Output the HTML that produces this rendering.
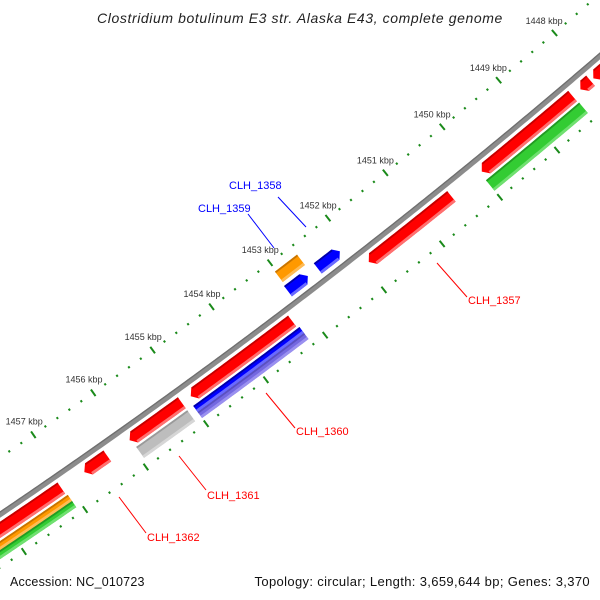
<!DOCTYPE html>
<html><head><meta charset="utf-8"><style>
html,body{margin:0;padding:0;background:#fff;width:600px;height:600px;overflow:hidden}
svg{display:block;font-family:"Liberation Sans",sans-serif;overflow:hidden}
</style></head><body>
<svg id="map" width="600" height="600" viewBox="0 0 600 600">
<text x="300" y="23" text-anchor="middle" font-size="14" letter-spacing="0.6" font-style="italic" fill="#222">Clostridium botulinum E3 str. Alaska E43, complete genome</text>
<g id="ticks"></g>
<g id="feats"></g>
<g id="labels">
<line x1="437" y1="263" x2="467" y2="297" stroke="#f00" stroke-width="1"/>
<text x="468" y="304" font-size="11" fill="#f00">CLH_1357</text>
<line x1="266" y1="393" x2="295" y2="428" stroke="#f00" stroke-width="1"/>
<text x="296" y="435" font-size="11" fill="#f00">CLH_1360</text>
<line x1="179" y1="456" x2="206" y2="490" stroke="#f00" stroke-width="1"/>
<text x="207" y="499" font-size="11" fill="#f00">CLH_1361</text>
<line x1="119" y1="497" x2="146" y2="533" stroke="#f00" stroke-width="1"/>
<text x="147" y="541" font-size="11" fill="#f00">CLH_1362</text>
<line x1="278" y1="197" x2="306" y2="227" stroke="#00f" stroke-width="1"/>
<text x="229" y="189" font-size="11" fill="#00f">CLH_1358</text>
<line x1="248" y1="214" x2="274" y2="248" stroke="#00f" stroke-width="1"/>
<text x="198" y="212" font-size="11" fill="#00f">CLH_1359</text>
</g>
<text x="10" y="586" font-size="12.5" letter-spacing="0.2" fill="#111">Accession: NC_010723</text>
<text x="590" y="586" font-size="13" letter-spacing="0.35" fill="#111" text-anchor="end">Topology: circular; Length: 3,659,644 bp; Genes: 3,370</text>
</svg>
<script>
const featNames=['clh1362-a','clh1362-b','clh1361-a','clh1361','clh1360-a','clh1360','clh1360-shade','clh1359','clh1359-orf','clh1358','clh1357','clh1356','clh1356-cds','clh1355-a','clh1355-b','clh1362-orf','clh1362-cds'];
const featStart=[1457.1,1456.34,1455.10,1455.10,1453.24,1453.21,1453.21,1452.70,1452.64,1452.15,1450.50,1448.37,1448.36,1448.05,1446.5,1457.08,1457.08];
const featEnd=[1459.5,1456.72,1455.97,1455.95,1454.95,1455.0,1455.0,1453.04,1453.02,1452.53,1451.93,1449.97,1450.0,1448.23,1448.0,1459.5,1459.5];
const featRing=[1,1,1,2,1,3,4,-1,-2,-1,1,1,2,1,1,3,4];
const featDir=[1,1,1,0,1,0,0,-1,0,-1,1,1,0,1,1,0,0];
const featColor=['red','red','red','gray','red','blue','purple','blue','orange','blue','red','red','green','red','red','orange','green'];
const kbpLabels=[1448,1449,1450,1451,1452,1453,1454,1455,1456,1457];

const C={x:-3644,y:-4874},R0=6505,K0=1457,T0=55.29,DT=0.649;
const NS='http://www.w3.org/2000/svg';
function pt(k,v){const t=(T0-(K0-k)*DT)*Math.PI/180;const r=R0+v;return [C.x+r*Math.cos(t),C.y+r*Math.sin(t)];}
const ringBand={'1':[6,19.5],'2':[22,35.5],'3':[22,29.5],'4':[29.5,37],'-1':[-20,-7],'-2':[-37,-24]};
const pal={red:['#ff0000','#c40000','#ff7070'],blue:['#0000ff','#0000a8','#6a6aff'],purple:['#7468e0','#5a50c0','#9a90f0'],orange:['#ff9900','#c87400','#ffbb55'],green:['#33cc33','#239a23','#70e070'],gray:['#bdbdbd','#9a9a9a','#d6d6d6']};
function arcPts(k1,k2,v){const n=Math.max(2,Math.ceil(Math.abs(k2-k1)/0.05));const a=[];for(let i=0;i<=n;i++){a.push(pt(k1+(k2-k1)*i/n,v));}return a;}
function poly(points,fill,name,parent){const p=document.createElementNS(NS,'polygon');p.setAttribute('points',points.map(q=>q[0].toFixed(2)+','+q[1].toFixed(2)).join(' '));p.setAttribute('fill',fill);


parent.appendChild(p);return p;}
function band(k1,k2,a,b){return arcPts(k1,k2,a).concat(arcPts(k2,k1,b));}

const tg=document.getElementById('ticks');
poly(band(1445,1460,-2.7,2.7),'#8c8c8c','backbone',tg);
poly(band(1445,1460,-2.7,-1.4),'#6f6f6f','backbone-edge',tg);
function line(p,q,w,col,name,parent){const l=document.createElementNS(NS,'line');l.setAttribute('x1',p[0].toFixed(2));l.setAttribute('y1',p[1].toFixed(2));l.setAttribute('x2',q[0].toFixed(2));l.setAttribute('y2',q[1].toFixed(2));l.setAttribute('stroke',col);l.setAttribute('stroke-width',w);


parent.appendChild(l);}
for(let i=14450;i<=14600;i+=2){const k=i/10;const major=(i%10===0);
 [-47,44].forEach(v=>{const h=major?4:1.1;line(pt(k,v-h),pt(k,v+h),2,'#1a8a1a',major?'major-tick':'minor-tick',tg);});}
kbpLabels.forEach(k=>{const p=pt(k,-63);const t=document.createElementNS(NS,'text');t.setAttribute('x',p[0].toFixed(1));t.setAttribute('y',(p[1]+3).toFixed(1));t.setAttribute('text-anchor','middle');t.setAttribute('font-size','9');t.setAttribute('fill','#333');t.textContent=k+' kbp';


tg.appendChild(t);});

const fg=document.getElementById('feats');
const L=0.075;
featStart.forEach((s,i)=>{const e=featEnd[i];const [a,b]=ringBand[String(featRing[i])];const c=pal[featColor[i]];const d=featDir[i];const m=(a+b)/2;
 let pts,bs=s,be=e;
 if(d>0){be=e-L;pts=arcPts(s,be,a).concat([pt(e,m)]).concat(arcPts(be,s,b));}
 else if(d<0){bs=s+L;pts=[pt(s,m)].concat(arcPts(bs,e,a)).concat(arcPts(e,bs,b));}
 else{pts=band(s,e,a,b);}
 const g=document.createElementNS(NS,'g');
 
 
 fg.appendChild(g);
 poly(pts,c[0],'feature-body',g);
 poly(band(bs,be,a,a+1.8),c[1],'feature-top-edge',g);
 poly(band(bs,be,b-2.8,b),c[2],'feature-highlight',g);
});
</script>
</body></html>
